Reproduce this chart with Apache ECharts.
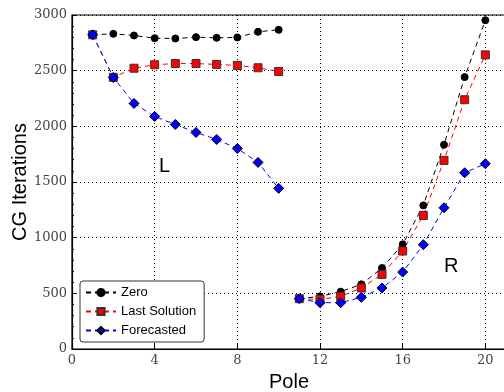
<!DOCTYPE html>
<html>
<head>
<meta charset="utf-8">
<style>
  html, body { margin: 0; padding: 0; background: #fff; }
  #chart { width: 504px; height: 392px; }
</style>
<script src="https://cdn.jsdelivr.net/npm/echarts@6/dist/echarts.min.js"></script>
</head>
<body>
<div id="chart"></div>
<script>
// poles, left group (L) and right group (R)
var polesL = [1, 2, 3, 4, 5, 6, 7, 8, 9, 10];
var polesR = [11, 12, 13, 14, 15, 16, 17, 18, 19, 20];

var zeroL = [2822, 2831, 2816, 2792, 2789, 2801, 2795, 2798, 2849, 2867];
var zeroR = [452, 473, 515, 581, 727, 940, 1290, 1835, 2442, 2953];

var lastL = [2822, 2440, 2522, 2553, 2564, 2564, 2556, 2547, 2526, 2493];
var lastR = [452, 445, 473, 548, 670, 880, 1200, 1694, 2239, 2642];

var foreL = [2822, 2439, 2206, 2089, 2017, 1945, 1882, 1801, 1676, 1443];
var foreR = [452, 416, 416, 464, 548, 691, 937, 1269, 1583, 1664];

function pairs(xs, ys) {
    return xs.map(function (x, i) { return [x, ys[i]]; });
}

var styles = {
    'Zero':          { color: '#000000', symbol: 'circle',  size: 7, border: '#000000' },
    'Last Solution': { color: '#ff0000', symbol: 'rect',    size: 8, border: '#333333' },
    'Forecasted':    { color: '#0000ff', symbol: 'diamond', size: 10, border: '#000000' }
};

function makeSeries(name, xs, ys) {
    var s = styles[name];
    return {
        name: name,
        type: 'line',
        data: pairs(xs, ys),
        symbol: s.symbol,
        symbolSize: s.size,
        lineStyle: { color: s.color, width: 1, type: [5, 4] },
        itemStyle: { color: s.color, borderColor: s.border, borderWidth: 1 },
        emphasis: { disabled: true },
        animation: false
    };
}

var chart = echarts.init(document.getElementById('chart'));
var serifFont = 'DejaVu Serif';
var sansFont = 'Liberation Sans';

var option = {
    backgroundColor: '#fff',
    grid: {
        left: 72, right: -2, top: 15, bottom: 43,
        outerBoundsMode: 'none',
        containLabel: false,
        show: true, borderColor: '#000', borderWidth: 1.2
    },
    legend: {
        orient: 'vertical',
        left: 80, top: 281,
        data: ['Zero', 'Last Solution', 'Forecasted'],
        itemWidth: 30, itemHeight: 9, itemGap: 6,
        backgroundColor: '#fff',
        borderColor: '#333', borderWidth: 1, borderRadius: 3,
        padding: [5, 8, 5, 5],
        textStyle: { fontFamily: sansFont, fontSize: 13, color: '#000' }
    },
    xAxis: {
        type: 'value',
        min: 0, max: 21, interval: 4,
        name: 'Pole', nameLocation: 'middle', nameGap: 23, nameMoveOverlap: false,
        nameTextStyle: { fontFamily: sansFont, fontSize: 20, color: '#000' },
        axisLine: { onZero: false, lineStyle: { color: '#000', width: 1.2 } },
        axisTick: { inside: true, length: 5, lineStyle: { color: '#000' } },
        axisLabel: { fontFamily: serifFont, fontSize: 13, color: '#444', margin: 5, showMaxLabel: false },
        splitLine: { show: true, lineStyle: { color: '#000', type: [1, 3], width: 1 } }
    },
    yAxis: {
        type: 'value',
        min: 0, max: 3000, interval: 500,
        name: 'CG Iterations', nameLocation: 'middle', nameGap: 42, nameMoveOverlap: false,
        nameTextStyle: { fontFamily: sansFont, fontSize: 20, color: '#000' },
        axisLine: { lineStyle: { color: '#000', width: 1.2 } },
        axisTick: { inside: true, length: 5, lineStyle: { color: '#000' } },
        minorTick: { show: true, splitNumber: 5, length: 2, lineStyle: { color: '#000' } },
        axisLabel: {
            fontFamily: serifFont, fontSize: 13, color: '#444', margin: 5,
            formatter: function (v) { return String(v); }
        },
        splitLine: { show: true, lineStyle: { color: '#000', type: [1, 3], width: 1 } }
    },
    graphic: [
        { type: 'text', left: 159, top: 156, style: { text: 'L', fontFamily: sansFont, fontSize: 20, fill: '#000' } },
        { type: 'text', left: 444, top: 256, style: { text: 'R', fontFamily: sansFont, fontSize: 20, fill: '#000' } }
    ],
    series: [
        makeSeries('Zero', polesL, zeroL),
        makeSeries('Zero', polesR, zeroR),
        makeSeries('Last Solution', polesL, lastL),
        makeSeries('Last Solution', polesR, lastR),
        makeSeries('Forecasted', polesL, foreL),
        makeSeries('Forecasted', polesR, foreR)
    ]
};
chart.setOption(option);
</script>
</body>
</html>
